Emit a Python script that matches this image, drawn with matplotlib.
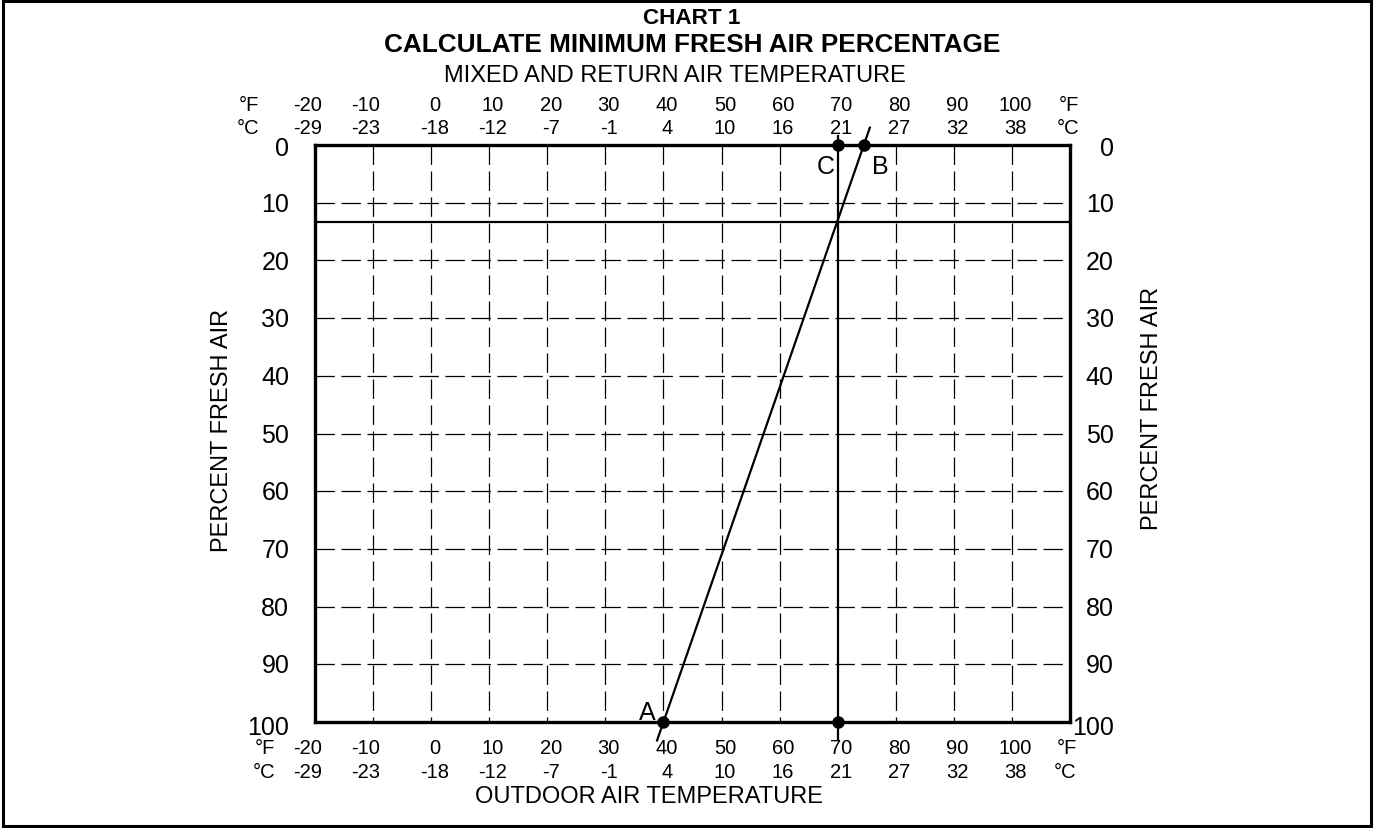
import matplotlib
matplotlib.use("Agg")
import matplotlib.pyplot as plt
import matplotlib.transforms as mtransforms
from matplotlib.patches import Rectangle

plt.rcParams['font.family'] = ['Liberation Sans', 'DejaVu Sans']

# ---- data ----
temp_f_ticks = [-20, -10, 0, 10, 20, 30, 40, 50, 60, 70, 80, 90, 100]
temp_c_ticks = [-29, -23, -18, -12, -7, -1, 4, 10, 16, 21, 27, 32, 38]
pct_ticks = [0, 10, 20, 30, 40, 50, 60, 70, 80, 90, 100]
outdoor_temp_A = 40.0     # outdoor air temperature (point A)
return_temp_B = 74.5      # return air temperature (point B)
mixed_temp_C = 70.0       # mixed air temperature (point C)
fresh_air_pct = 13.3      # resulting minimum fresh air percentage
x_min, x_max = -20, 110
y_min, y_max = 0, 100

fig = plt.figure(figsize=(13.74, 8.29), dpi=100)
ax = fig.add_axes([315/1374, 1-723/829, 755/1374, 577/829])
ax.set_xlim(x_min, x_max)
ax.set_ylim(y_max, y_min)
ax.set_xticks([])
ax.set_yticks([])
for s in ax.spines.values():
    s.set_linewidth(2.4)
    s.set_color('black')

# dashed grid
dash = (0, (15.5, 5.3))
for t in temp_f_ticks[1:]:
    if t == mixed_temp_C:
        continue
    ax.plot([t, t], [y_min, y_max], color='black', lw=0.9, linestyle=dash, zorder=1)
for p in pct_ticks[1:-1]:
    ax.plot([x_min, x_max], [p, p], color='black', lw=0.9, linestyle=dash, zorder=1)

# horizontal fresh-air line
ax.plot([x_min, x_max], [fresh_air_pct, fresh_air_pct], color='black', lw=1.6, zorder=2)
# vertical mixed-air line
ax.plot([mixed_temp_C, mixed_temp_C], [-1.5, 103], color='black', lw=1.6, zorder=2, clip_on=False)
# diagonal line A-B, extended slightly
def line_x(p):
    return return_temp_B + (outdoor_temp_A - return_temp_B) * p / 100.0
ax.plot([line_x(-3), line_x(103.2)], [-3, 103.2], color='black', lw=1.6, zorder=2, clip_on=False)

# points
pts_x = [mixed_temp_C, return_temp_B, outdoor_temp_A, mixed_temp_C]
pts_y = [0, 0, 100, 100]
ax.plot(pts_x, pts_y, 'o', color='black', markersize=8, zorder=5, clip_on=False)

ax.text(mixed_temp_C - 2.0, 3.6, 'C', fontsize=18, ha='center', va='center')
ax.text(return_temp_B + 2.8, 3.6, 'B', fontsize=18, ha='center', va='center')
ax.text(outdoor_temp_A - 2.8, 98.2, 'A', fontsize=18, ha='center', va='center')

# temperature labels top & bottom
trans_x = mtransforms.blended_transform_factory(ax.transData, ax.transAxes)
fs_t = 14.5
y_top_f, y_top_c = 1.071, 1.030
y_bot_f, y_bot_c = -0.045, -0.085
for f, c in zip(temp_f_ticks, temp_c_ticks):
    dx = -1.3 if f in (-20, -10) else 0.6
    ax.text(f + dx, y_top_f, str(f), transform=trans_x, fontsize=fs_t, ha='center', va='center')
    ax.text(f + dx, y_top_c, str(c), transform=trans_x, fontsize=fs_t, ha='center', va='center')
    ax.text(f + dx, y_bot_f, str(f), transform=trans_x, fontsize=fs_t, ha='center', va='center')
    ax.text(f + dx, y_bot_c, str(c), transform=trans_x, fontsize=fs_t, ha='center', va='center')
deg = '\u00b0'
ax.text(-31.4, y_top_f, deg + 'F', transform=trans_x, fontsize=fs_t, ha='center', va='center')
ax.text(-31.6, y_top_c, deg + 'C', transform=trans_x, fontsize=fs_t, ha='center', va='center')
ax.text(-28.6, y_bot_f, deg + 'F', transform=trans_x, fontsize=fs_t, ha='center', va='center')
ax.text(-28.8, y_bot_c, deg + 'C', transform=trans_x, fontsize=fs_t, ha='center', va='center')
ax.text(109.8, y_top_f, deg + 'F', transform=trans_x, fontsize=fs_t, ha='center', va='center')
ax.text(109.6, y_top_c, deg + 'C', transform=trans_x, fontsize=fs_t, ha='center', va='center')
ax.text(109.4, y_bot_f, deg + 'F', transform=trans_x, fontsize=fs_t, ha='center', va='center')
ax.text(109.2, y_bot_c, deg + 'C', transform=trans_x, fontsize=fs_t, ha='center', va='center')

# percentage labels left & right (right-aligned)
trans_y = mtransforms.blended_transform_factory(ax.transAxes, ax.transData)
for p in pct_ticks:
    dy = 0.8 if p == 100 else (0.5 if p == 0 else 0.2)
    ax.text(-0.034, p + dy, str(p), transform=trans_y, fontsize=18, ha='right', va='center')
    ax.text(1.058, p + dy, str(p), transform=trans_y, fontsize=18, ha='right', va='center')

# axis titles
fig.text(222/1374, 1-430/829, 'PERCENT FRESH AIR', rotation=90, fontsize=17, ha='center', va='center')
fig.text(1152/1374, 1-408/829, 'PERCENT FRESH AIR', rotation=90, fontsize=17, ha='center', va='center')
fig.text(649/1374, 1-797/829, 'OUTDOOR AIR TEMPERATURE', fontsize=17, ha='center', va='center')
fig.text(675/1374, 1-76/829, 'MIXED AND RETURN AIR TEMPERATURE', fontsize=17, ha='center', va='center')
fig.text(692/1374, 1-18/829, 'CHART 1', fontsize=16.2, fontweight='bold', ha='center', va='center')
fig.text(692/1374, 1-45/829, 'CALCULATE MINIMUM FRESH AIR PERCENTAGE', fontsize=18.8,
         fontweight='bold', ha='center', va='center')

# outer border
fig.patches.append(Rectangle((0.002, 0.002), 0.996, 0.996, transform=fig.transFigure,
                             fill=False, edgecolor='black', linewidth=2.2))

fig.savefig('out.png', dpi=100)
